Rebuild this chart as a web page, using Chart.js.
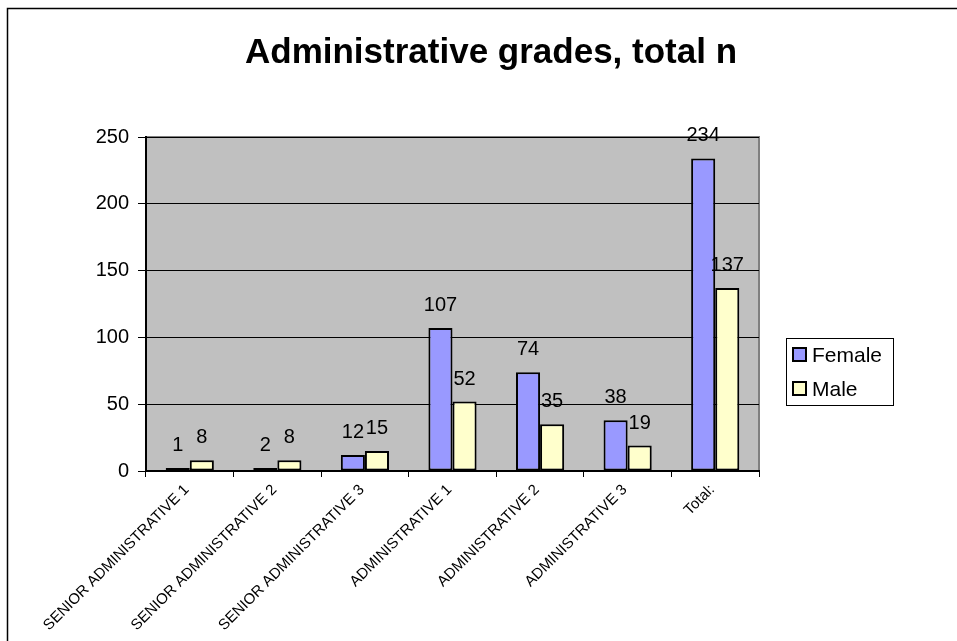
<!DOCTYPE html>
<html>
<head>
<meta charset="utf-8">
<script src="https://cdn.jsdelivr.net/npm/chart.js@4/dist/chart.umd.min.js"></script>
<style>
  html, body { margin: 0; padding: 0; background: #fff; }
  #wrap { width: 957px; height: 641px; }
</style>
</head>
<body>
<div id="wrap"><canvas id="myChart" width="957" height="641"></canvas></div>
<script>
  "use strict";
  // Chart data
  const categories = [
    "SENIOR ADMINISTRATIVE 1",
    "SENIOR ADMINISTRATIVE 2",
    "SENIOR ADMINISTRATIVE 3",
    "ADMINISTRATIVE 1",
    "ADMINISTRATIVE 2",
    "ADMINISTRATIVE 3",
    "Total:"
  ];
  const femaleValues = [1, 2, 12, 107, 74, 38, 234];
  const maleValues = [8, 8, 15, 52, 35, 19, 137];
  const seriesNames = ["Female", "Male"];
  const yTicks = [0, 50, 100, 150, 200, 250];
  const chartTitle = "Administrative grades, total n";

  const fontFamily = "'Liberation Sans', Arial, sans-serif";
  const blue = "#9999FF";
  const yellow = "#FFFFCC";

  // grey plot area + outer frame + title
  const plotBackground = {
    id: "plotBackground",
    beforeDraw(chart) {
      const c = chart.ctx;
      const a = chart.chartArea;
      c.save();
      c.strokeStyle = "#000";
      c.lineWidth = 1.5;
      c.strokeRect(7.5, 8.5, 1200, 1200);
      c.fillStyle = "#C0C0C0";
      c.fillRect(a.left, a.top, a.right - a.left, a.bottom - a.top);
      c.strokeStyle = "#808080";
      c.lineWidth = 2;
      c.strokeRect(a.left, a.top, a.right - a.left, a.bottom - a.top);
      // title, centred on the whole frame
      c.fillStyle = "#000";
      c.font = "bold 35px " + fontFamily;
      c.textAlign = "center";
      c.textBaseline = "alphabetic";
      c.fillText(chartTitle, 491, 63);
      c.restore();
    }
  };

  // value labels above each bar
  const valueLabels = {
    id: "valueLabels",
    afterDatasetsDraw(chart) {
      const c = chart.ctx;
      c.save();
      c.font = "20px " + fontFamily;
      c.fillStyle = "#000";
      c.textAlign = "center";
      c.textBaseline = "alphabetic";
      chart.data.datasets.forEach((ds, i) => {
        chart.getDatasetMeta(i).data.forEach((bar, j) => {
          c.fillText(String(ds.data[j]), bar.x, bar.y - 17);
        });
      });
      c.restore();
    }
  };

  // boxed legend on the right
  const boxLegend = {
    id: "boxLegend",
    afterDraw(chart) {
      const c = chart.ctx;
      const a = chart.chartArea;
      const left = a.right + 27;
      const top = 338;
      c.save();
      c.strokeStyle = "#000";
      c.lineWidth = 1;
      c.fillStyle = "#fff";
      c.fillRect(left + 0.5, top + 0.5, 107, 67);
      c.strokeRect(left + 0.5, top + 0.5, 107, 67);
      c.font = "21px " + fontFamily;
      c.textBaseline = "middle";
      c.textAlign = "left";
      chart.data.datasets.forEach((ds, i) => {
        const y = top + 17 + i * 34;
        c.fillStyle = ds.backgroundColor;
        c.fillRect(left + 7, y - 7, 13, 13);
        c.lineWidth = 2;
        c.strokeRect(left + 7, y - 7, 13, 13);
        c.fillStyle = "#000";
        c.fillText(ds.label, left + 26, y + 1);
      });
      c.restore();
    }
  };

  const ctx = document.getElementById("myChart");
  const myChart = new Chart(ctx, {
    type: "bar",
    data: {
      labels: categories,
      datasets: [
        {
          label: seriesNames[0],
          data: femaleValues,
          backgroundColor: blue,
          borderColor: "#000",
          borderWidth: 2,
          borderSkipped: false,
          minBarLength: 3,
          categoryPercentage: 0.55,
          barPercentage: 1
        },
        {
          label: seriesNames[1],
          data: maleValues,
          backgroundColor: yellow,
          borderColor: "#000",
          borderWidth: 2,
          borderSkipped: false,
          minBarLength: 3,
          categoryPercentage: 0.55,
          barPercentage: 1
        }
      ]
    },
    options: {
      responsive: false,
      animation: false,
      layout: { padding: { left: 0, right: 198, top: 137, bottom: 0 } },
      plugins: {
        legend: { display: false },
        tooltip: { enabled: false },
        title: { display: false }
      },
      scales: {
        x: {
          grid: {
            offset: true,
            drawOnChartArea: false,
            drawTicks: true,
            tickLength: 6,
            color: "#000"
          },
          border: { color: "#000", width: 2 },
          ticks: {
            color: "#000",
            font: { family: fontFamily, size: 15 },
            minRotation: 45,
            maxRotation: 45,
            autoSkip: false,
            padding: 4,
            labelOffset: -3
          },
          afterFit(scale) { scale.height = 170; }
        },
        y: {
          min: 0,
          max: 250,
          grid: { color: "#000", lineWidth: 1, tickLength: 8 },
          border: { color: "#000", width: 2 },
          afterBuildTicks(scale) { scale.ticks = yTicks.map(v => ({ value: v })); },
          ticks: {
            color: "#000",
            font: { family: fontFamily, size: 20 },
            padding: 9
          },
          afterFit(scale) { scale.width = 146; }
        }
      }
    },
    plugins: [plotBackground, valueLabels, boxLegend]
  });
</script>
</body>
</html>
